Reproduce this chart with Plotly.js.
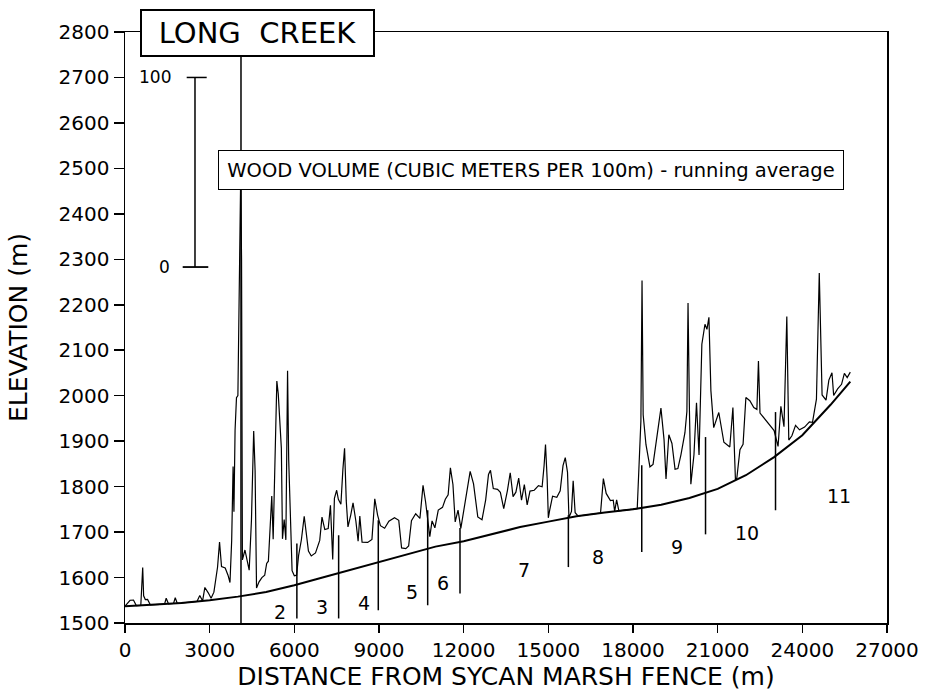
<!DOCTYPE html>
<html><head><meta charset="utf-8">
<script src="https://cdn.plot.ly/plotly-3.0.1.min.js"></script>
<style>html,body{margin:0;padding:0;background:#fff;} #chart{width:927px;height:694px;}</style>
</head><body><div id="chart"></div>
<script>
// Channel profile (distance m, elevation m)
const profileDist = [0, 1000, 2000, 3000, 4000, 5000, 6000, 7000, 8000, 9000, 10000, 11000, 12000, 13000, 14000, 15000, 16000, 17000, 18000, 19000, 20000, 21000, 22000, 23000, 24000, 25000, 25700];
const profileElev = [1537, 1540, 1544, 1550, 1558, 1568, 1583, 1600, 1617, 1634, 1652, 1668, 1680, 1695, 1711, 1723, 1735, 1743, 1750, 1760, 1775, 1795, 1825, 1865, 1913, 1980, 2031];

// Wood volume running average (m3 per 100 m), plotted above the profile
const woodDist = [0, 180, 300, 400, 560, 627, 660, 720, 800, 900, 1400, 1460, 1540, 1720, 1780, 1850, 2550, 2650, 2750, 2830, 2950, 3050, 3150, 3280, 3350, 3420, 3550, 3650, 3720, 3780, 3830, 3860, 3900, 3950, 4000, 4050, 4080, 4100, 4130, 4160, 4250, 4330, 4400, 4480, 4560, 4610, 4660, 4750, 4850, 4950, 5020, 5080, 5150, 5200, 5250, 5320, 5380, 5430, 5480, 5540, 5580, 5640, 5700, 5760, 5800, 5850, 5920, 6000, 6080, 6150, 6250, 6350, 6420, 6500, 6600, 6750, 6900, 6980, 7080, 7200, 7280, 7360, 7420, 7500, 7560, 7650, 7720, 7780, 7840, 7900, 8000, 8080, 8180, 8260, 8320, 8400, 8600, 8750, 8850, 8950, 9050, 9200, 9350, 9550, 9700, 9800, 9950, 10050, 10150, 10300, 10450, 10560, 10650, 10720, 10800, 10880, 10980, 11100, 11250, 11350, 11450, 11530, 11620, 11700, 11800, 11900, 12000, 12120, 12230, 12350, 12500, 12650, 12780, 12880, 12950, 13050, 13200, 13300, 13420, 13550, 13650, 13750, 13850, 13950, 14050, 14150, 14250, 14350, 14500, 14650, 14780, 14850, 14900, 14960, 15000, 15050, 15150, 15300, 15420, 15520, 15600, 15680, 15730, 15820, 15880, 15950, 16050, 16850, 16950, 17050, 17200, 17300, 17350, 17420, 17500, 18150, 18220, 18280, 18320, 18360, 18460, 18600, 18710, 18850, 18990, 19100, 19170, 19270, 19380, 19490, 19590, 19700, 19840, 19910, 19950, 20000, 20050, 20160, 20250, 20340, 20440, 20550, 20620, 20690, 20760, 20860, 21040, 21220, 21430, 21540, 21630, 21680, 21790, 21900, 22000, 22140, 22280, 22390, 22445, 22500, 22680, 22850, 23000, 23140, 23240, 23350, 23450, 23520, 23630, 23760, 23900, 24080, 24250, 24360, 24500, 24600, 24700, 24840, 24940, 25050, 25110, 25250, 25390, 25490, 25590, 25700];
const woodVolume = [0, 3, 3, 0, 0, 20, 5, 3, 3, 0, 0, 3, 0, 0, 3, 0, 0, 3, 0, 7, 4, 1, 4, 17, 30, 17, 16, 12, 8, 30, 69, 45, 88, 105, 106, 156, 209, 222, 177, 19, 24, 17, 13, 39, 86, 65, 3, 6, 8, 9, 15, 16, 33, 50, 27, 74, 110, 103, 92, 74, 26, 36, 25, 114, 67, 37, 8, 5, 5, 15, 23, 35, 27, 16, 13, 14, 20, 32, 25, 25, 37, 8, 40, 44, 39, 36, 54, 65, 37, 23, 29, 35, 25, 14, 27, 13, 12, 13, 34, 25, 19, 17, 20, 21, 19, 4, 3, 4, 17, 20, 17, 34, 25, 15, 6, 14, 10, 19, 20, 24, 26, 40, 31, 11, 17, 7, 16, 28, 36, 29, 11, 9, 19, 32, 34, 24, 23, 21, 12, 21, 30, 17, 19, 26, 14, 22, 11, 18, 18, 20, 19, 30, 41, 22, 2, 6, 13, 12, 15, 28, 32, 24, 0, 3, 19, 2, 0, 0, 18, 10, 6, 6, 0, 6, 0, 0, 26, 46, 120, 49, 33, 21, 22, 36, 51, 34, 13, 36, 31, 17, 17, 24, 35, 46, 103, 46, 7, 22, 49, 21, 79, 89, 86, 92, 53, 33, 40, 23, 19, 39, 0, 1, 15, 17, 41, 38, 33, 31, 56, 28, 23, 18, 14, 4, 24, 12, 69, 3, 4, 8, 4, 3, 3, 1, 11, 76, 10, 5, 14, 16, 3, 4, 4, 8, 4, 5];

// Reach boundaries and labels
const dividerDist = [4110, 6090, 7570, 8975, 10725, 11870, 15710, 18310, 20570, 23050];
const dividerTop = [2800, 1675, 1693, 1726, 1748, 1709, 1737, 1847, 1909, 1964];
const dividerBottom = [1500, 1510, 1510, 1528, 1539, 1565, 1623, 1656, 1695, 1748];
const reachNames = ['2', '3', '4', '5', '6', '7', '8', '9', '10', '11'];
const reachLabelDist = [5492, 6969, 8468, 10160, 11278, 14137, 16770, 19557, 22037, 25297];
const reachLabelElev = [1524, 1535, 1543, 1568, 1587, 1616, 1645, 1667, 1697, 1779];

// Axis ticks
const xTicks = [0, 3000, 6000, 9000, 12000, 15000, 18000, 21000, 24000, 27000];
const yTicks = [1500, 1600, 1700, 1800, 1900, 2000, 2100, 2200, 2300, 2400, 2500, 2600, 2700, 2800];

// Wood volume scale bar (0 and 100 m3)
const scaleValues = [0, 100];
const WOOD_BASE = 2283;
const WOOD_SCALE = 4.17; // elevation units per m3

function elevAt(d) {
  for (let i = 0; i < profileDist.length - 1; i++) {
    if (d <= profileDist[i + 1]) {
      const t = (d - profileDist[i]) / (profileDist[i + 1] - profileDist[i]);
      return profileElev[i] + t * (profileElev[i + 1] - profileElev[i]);
    }
  }
  return profileElev[profileElev.length - 1];
}
const woodY = woodDist.map((d, i) => elevAt(d) + woodVolume[i] * WOOD_SCALE);

const FONT = 'DejaVu Sans, Arial, sans-serif';

const traces = [
  {x: profileDist, y: profileElev, type: 'scatter', mode: 'lines',
   line: {color: '#000', width: 2}, hoverinfo: 'skip'},
  {x: woodDist, y: woodY, type: 'scatter', mode: 'lines',
   line: {color: '#000', width: 1.2}, hoverinfo: 'skip'}
];

const shapes = [];
dividerDist.forEach((d, i) => {
  shapes.push({type: 'line', xref: 'x', yref: 'y', x0: d, x1: d, y0: dividerBottom[i], y1: dividerTop[i],
    line: {color: '#000', width: 1.5}});
});
// scale bar
const sTop = WOOD_BASE + scaleValues[1] * WOOD_SCALE;
shapes.push({type: 'line', xref: 'x', yref: 'y', x0: 2480, x1: 2480, y0: WOOD_BASE, y1: sTop, line: {color: '#000', width: 1.5}});
shapes.push({type: 'line', xref: 'x', yref: 'y', x0: 2186, x1: 2895, y0: sTop, y1: sTop, line: {color: '#000', width: 1.5}});
shapes.push({type: 'line', xref: 'x', yref: 'y', x0: 2044, x1: 2951, y0: WOOD_BASE, y1: WOOD_BASE, line: {color: '#000', width: 1.8}});

const annotations = [];
reachNames.forEach((n, i) => {
  annotations.push({x: reachLabelDist[i], y: reachLabelElev[i], xref: 'x', yref: 'y', text: n,
    showarrow: false, font: {family: FONT, size: 19, color: '#000'}});
});
annotations.push({x: 1711, y: sTop, xref: 'x', yref: 'y', text: String(scaleValues[1]), xanchor: 'right',
  showarrow: false, font: {family: FONT, size: 17, color: '#000'}});
annotations.push({x: 1655, y: WOOD_BASE, xref: 'x', yref: 'y', text: String(scaleValues[0]), xanchor: 'right',
  showarrow: false, font: {family: FONT, size: 17, color: '#000'}});
annotations.push({x: 0.174, y: 0.9988, xref: 'paper', yref: 'paper', text: 'LONG  CREEK',
  showarrow: false, width: 227, height: 40, borderpad: 2, borderwidth: 2, bordercolor: '#000', bgcolor: '#fff',
  xanchor: 'center', yanchor: 'middle', font: {family: FONT, size: 29, color: '#000'}});
annotations.push({x: 0.533, y: 0.766, xref: 'paper', yref: 'paper',
  text: 'WOOD VOLUME (CUBIC METERS PER 100m) - running average',
  showarrow: false, width: 620, height: 34, borderpad: 2, borderwidth: 1, bordercolor: '#000', bgcolor: '#fff',
  xanchor: 'center', yanchor: 'middle', font: {family: FONT, size: 19.5, color: '#000'}});

const layout = {
  width: 927, height: 694,
  margin: {l: 125, r: 40, t: 32, b: 71},
  paper_bgcolor: '#fff', plot_bgcolor: '#fff',
  showlegend: false,
  xaxis: {range: [0, 27000], tickvals: xTicks, ticktext: xTicks.map(String),
    showgrid: false, zeroline: false, showline: true, linecolor: '#000', linewidth: 1.5, mirror: true,
    ticks: 'outside', ticklen: 8, tickwidth: 1.5, tickcolor: '#000',
    tickfont: {family: FONT, size: 20, color: '#000'},
    title: {text: 'DISTANCE FROM SYCAN MARSH FENCE (m)', font: {family: FONT, size: 25, color: '#000'}, standoff: 0}},
  yaxis: {range: [1500, 2800], tickvals: yTicks, ticktext: yTicks.map(String),
    showgrid: false, zeroline: false, showline: true, linecolor: '#000', linewidth: 1.5, mirror: true,
    ticks: 'outside', ticklen: 10, tickwidth: 1.5, tickcolor: '#000',
    tickfont: {family: FONT, size: 20, color: '#000'},
    title: {text: 'ELEVATION (m)', font: {family: FONT, size: 25, color: '#000'}, standoff: 24}},
  shapes: shapes,
  annotations: annotations
};

Plotly.newPlot('chart', traces, layout, {staticPlot: true, displayModeBar: false});
</script>
</body></html>
